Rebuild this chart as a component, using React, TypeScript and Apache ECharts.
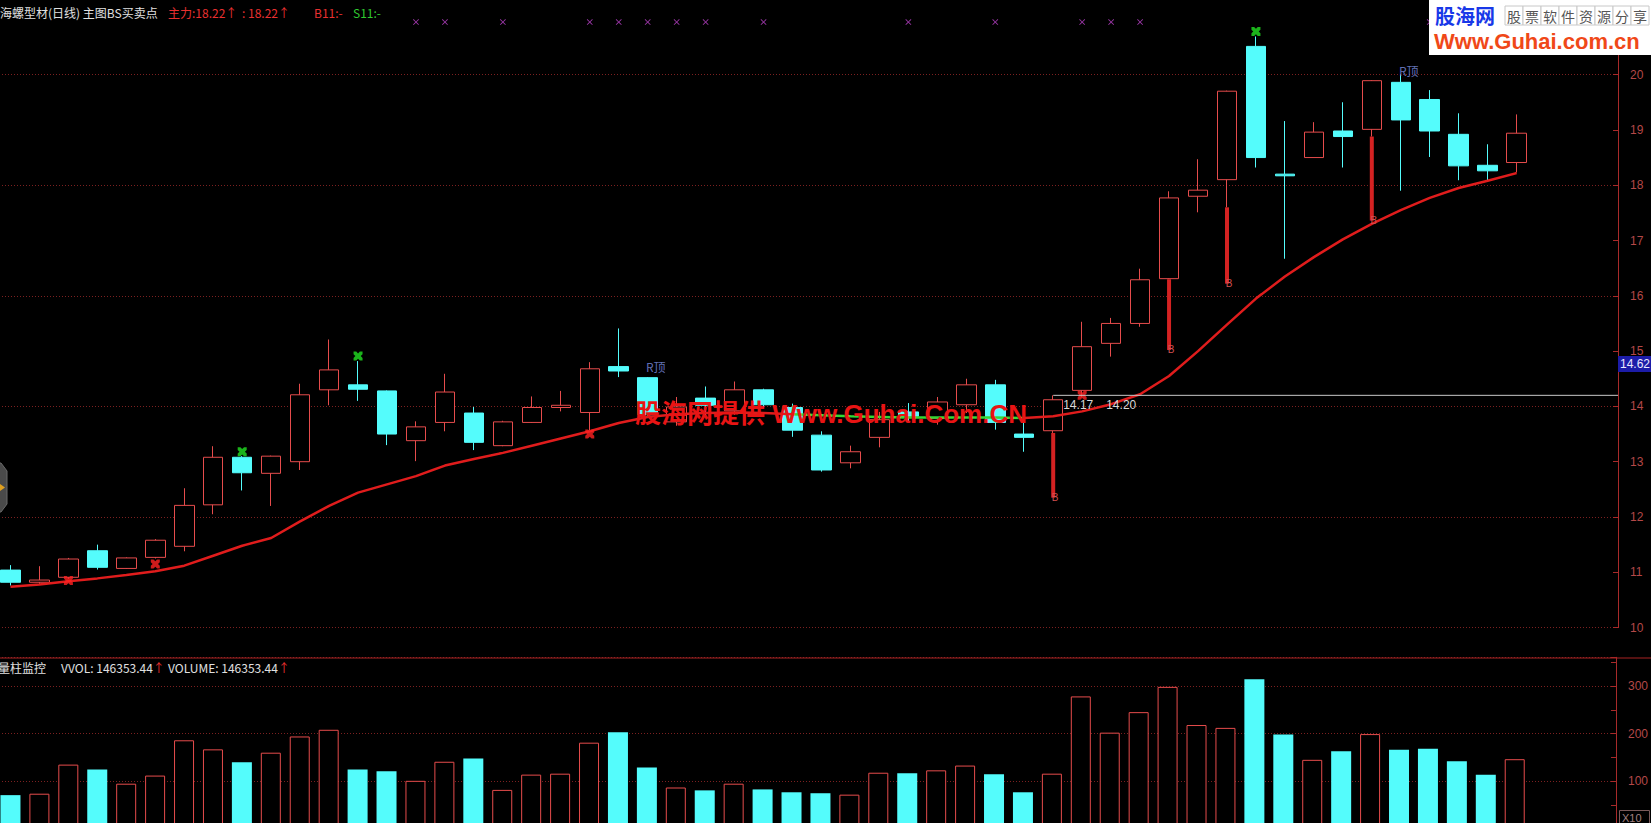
import React, { useEffect, useRef } from "react";
import * as echarts from "echarts";

// ---- data ----
const SLOT_COUNT = 56;
const days = Array.from({ length: SLOT_COUNT }, (_, i) => "D" + (i + 1));

const opens = [11.04, 10.82, 10.91, 11.39, 11.07, 11.27, 11.47, 12.22, 13.08, 12.79,
  13.00, 14.30, 14.39, 14.28, 13.38, 13.71, 13.88, 13.29, 13.71, 13.98,
  13.89, 14.72, 14.52, 13.72, 14.15, 13.92, 14.30, 13.98, 13.48, 12.98,
  13.44, 13.90, 13.78, 14.03, 14.39, 13.50, 13.56, 14.29, 15.14, 15.50,
  16.31, 17.80, 18.10, 20.51, 18.20, 18.50, 18.98, 19.01, 19.86, 19.55,
  18.92, 18.36, 18.41];
const closes = [10.82, 10.86, 11.24, 11.09, 11.26, 11.58, 12.21, 13.08, 12.80, 13.10,
  14.21, 14.66, 14.31, 13.50, 13.63, 14.26, 13.35, 13.72, 13.98, 14.02,
  14.68, 14.64, 13.85, 13.99, 14.02, 14.30, 14.03, 13.57, 12.85, 13.18,
  13.76, 13.82, 14.08, 14.39, 13.71, 13.44, 14.12, 15.08, 15.50, 16.29,
  17.77, 17.91, 19.70, 18.50, 18.17, 18.96, 18.88, 19.89, 19.18, 18.98,
  18.35, 18.26, 18.94];
const lows = [10.76, 10.79, 10.88, 11.05, 11.06, 11.25, 11.38, 12.05, 12.48, 12.20,
  12.85, 14.02, 14.10, 13.30, 13.01, 13.55, 13.21, 13.28, 13.70, 13.91,
  13.55, 14.53, 13.80, 13.65, 13.85, 13.85, 13.98, 13.45, 12.82, 12.88,
  13.26, 13.70, 13.67, 13.88, 13.58, 13.18, 13.52, 14.17, 14.90, 15.44,
  16.30, 17.51, 17.60, 18.32, 16.67, 18.50, 18.32, 18.88, 17.90, 18.51,
  18.09, 18.09, 18.23];
const highs = [11.13, 11.11, 11.26, 11.50, 11.27, 11.60, 12.52, 13.28, 13.10, 13.11,
  14.41, 15.21, 14.82, 14.29, 13.73, 14.59, 13.99, 13.74, 14.18, 14.28,
  14.80, 15.41, 14.53, 14.17, 14.36, 14.45, 14.32, 14.05, 13.55, 13.29,
  13.90, 14.06, 14.17, 14.50, 14.48, 13.70, 14.20, 15.53, 15.60, 16.49,
  17.89, 18.47, 19.71, 20.69, 19.16, 19.14, 19.50, 19.90, 20.00, 19.72,
  19.30, 18.74, 19.28];
// volume in axis units (x1000)
const volumes = [71, 74, 135, 125, 95, 112, 186, 167, 140, 160,
  194, 208, 125, 121, 101, 141, 148, 82, 114, 116,
  181, 203, 129, 87, 81, 95, 83, 77, 75, 72,
  118, 117, 123, 133, 115, 77, 116, 278, 202, 245,
  298, 218, 212, 314, 198, 145, 163, 199, 166, 168,
  142, 114, 146.35];
// 主力 line
const mainLine = [10.74, 10.78, 10.84, 10.89, 10.95, 11.02, 11.12, 11.30, 11.48, 11.62,
  11.92, 12.20, 12.44, 12.59, 12.74, 12.93, 13.05, 13.16, 13.29, 13.42,
  13.55, 13.70, 13.81, 13.86, 13.88, 13.89, 13.88, 13.86, 13.84, 13.82,
  13.81, 13.80, 13.80, 13.80, 13.80, 13.79, 13.82, 13.91, 14.04, 14.22,
  14.55, 15.00, 15.48, 15.95, 16.35, 16.70, 17.02, 17.30, 17.55, 17.77,
  17.95, 18.08, 18.22];
const mainLineFallFrom = 27;
const mainLineFallTo = 35;

const topMarkIdx = [14, 15, 17, 20, 21, 22, 23, 24, 26, 31, 34, 37, 38, 39, 49];
const topMarkLevel = 20.95;
const buyMarks = [[2, 10.85], [5, 11.15], [20, 13.5], [37, 14.2]];
const sellMarks = [[8, 13.18], [12, 14.91], [43, 20.78]];
const bSignals = [[36, 12.35], [40, 15.02], [42, 16.22], [47, 17.36]];
const rTops = [[22, 14.72], [48, 20.08]];
const refLineIdx = 36;
const refLineValue = 14.2;
const refLineTexts = ["14.17", "14.20"];
const cursorPrice = "14.62";

const priceMin = 10, priceMax = 22;
const volMin = 0, volMax = 360;

const UP = "#e64c4c";
const DOWN = "#54fcfc";
const AXIS = "#a82a2a";
const GRIDC = "#7c2020";
const LABEL = "#b44848";

const X_PATH = "path://M1,0 L5,4 L9,0 L10,1 L6,5 L10,9 L9,10 L5,6 L1,10 L0,9 L4,5 L0,1 Z";
const BOLD_X = "path://M0,0 L3,0 L5,2 L7,0 L10,0 L10,3 L8,5 L10,7 L10,10 L7,10 L5,8 L3,10 L0,10 L0,7 L2,5 L0,3 Z";

// the chart canvas is a little larger than the window so that the panels can bleed past its edges
const OX = 10;
const OY = 40;
const CW = 1651 + OX;
const CH = 870;

export default function App() {
  const ref = useRef<HTMLDivElement>(null);
  useEffect(() => {
    document.body.style.margin = "0";
    document.body.style.background = "#000";
    document.body.style.overflow = "hidden";
    const chart = echarts.init(ref.current!, null, { renderer: "svg" });
    const candleData = opens.map((o, i) => [o, closes[i], lows[i], highs[i]]);
    const volData = volumes.map((v, i) => {
      const up = closes[i] >= opens[i];
      return {
        value: v,
        itemStyle: up
          ? { color: "#000000", borderColor: UP, borderWidth: 1 }
          : { color: DOWN, borderWidth: 0 },
      };
    });
    const grids = [
      { left: 6, right: 33, top: 4, bottom: 202.4 },
      { left: 6, right: 33, top: 697.3, bottom: 1 },
    ];
    const option: any = {
      animation: false,
      backgroundColor: "#000000",
      textStyle: { fontFamily: "'Liberation Sans', Arial, 'Noto Sans CJK SC', sans-serif" },
      grid: grids,
      xAxis: [
        { type: "category", gridIndex: 0, data: days, show: false },
        { type: "category", gridIndex: 1, data: days, show: false },
      ],
      yAxis: [
        {
          type: "value", gridIndex: 0, position: "right", min: priceMin, max: priceMax, interval: 1,
          axisLine: { show: true, lineStyle: { color: AXIS } },
          axisTick: { show: true, inside: true, length: 5, lineStyle: { color: AXIS } },
          axisLabel: { color: LABEL, fontSize: 12, margin: 12, formatter: (v: number) => (v <= 20 ? String(v) : "") },
          splitLine: { show: false },
        },
        {
          type: "value", gridIndex: 0, position: "right", min: priceMin, max: priceMax, interval: 2,
          axisLine: { show: false }, axisTick: { show: false }, axisLabel: { show: false },
          splitLine: { show: true, lineStyle: { color: GRIDC, type: [1, 2], width: 1 } },
        },
        {
          type: "value", gridIndex: 1, position: "right", min: volMin, max: volMax, interval: 50,
          axisLine: { show: true, lineStyle: { color: AXIS } },
          axisTick: { show: true, inside: true, length: 5, lineStyle: { color: AXIS } },
          axisLabel: { color: LABEL, fontSize: 12, margin: 12, formatter: (v: number) => (v > 0 && v <= 300 && v % 100 === 0 ? String(v) : "") },
          splitLine: { show: false },
        },
        {
          type: "value", gridIndex: 1, position: "right", min: volMin, max: volMax, interval: 100,
          axisLine: { show: false }, axisTick: { show: false }, axisLabel: { show: false },
          splitLine: { show: true, lineStyle: { color: GRIDC, type: [1, 2], width: 1 } },
        },
      ],
      visualMap: [
        {
          type: "piecewise", show: false, seriesIndex: 1, dimension: 0,
          pieces: [{ gte: mainLineFallFrom, lte: mainLineFallTo, color: "#34d834" }],
          outOfRange: { color: "#e01c1c" },
        },
      ],
      series: [
        {
          type: "candlestick", xAxisIndex: 0, yAxisIndex: 0, data: candleData, barWidth: 20,
          itemStyle: { color: "#000000", color0: DOWN, borderColor: UP, borderColor0: DOWN, borderWidth: 1 },
          z: 3,
        },
        {
          type: "line", xAxisIndex: 0, yAxisIndex: 0, data: mainLine, symbol: "none",
          lineStyle: { width: 2.5 }, z: 4,
        },
        {
          type: "custom", xAxisIndex: 0, yAxisIndex: 0,
          data: bSignals.map(([i, v]) => [i, v, lows[i]]),
          renderItem: (params: any, api: any) => {
            const i = api.value(0);
            const p1 = api.coord([i, api.value(2)]);
            const p2 = api.coord([i, api.value(1)]);
            return {
              type: "group",
              children: [
                { type: "rect", shape: { x: p1[0] - 2, y: p1[1], width: 4, height: p2[1] - p1[1] }, style: { fill: "#d42222" } },
                { type: "text", style: { text: "B", x: p2[0] + 2, y: p2[1], fill: "#d45050", font: "10px 'Liberation Sans', sans-serif", align: "center", verticalAlign: "middle" } },
              ],
            };
          },
          z: 5,
        },
        {
          type: "scatter", xAxisIndex: 0, yAxisIndex: 0, symbol: BOLD_X, symbolSize: 9,
          itemStyle: { color: "#ff2222" }, data: buyMarks, z: 6,
        },
        {
          type: "scatter", xAxisIndex: 0, yAxisIndex: 0, symbol: BOLD_X, symbolSize: 9,
          itemStyle: { color: "#22e022" }, data: sellMarks, z: 6,
        },
        {
          type: "scatter", xAxisIndex: 0, yAxisIndex: 0, symbol: X_PATH, symbolSize: 6,
          itemStyle: { color: "#c044d0" }, data: topMarkIdx.map((i) => [i, topMarkLevel]), z: 6,
        },
        {
          type: "scatter", xAxisIndex: 0, yAxisIndex: 0, symbolSize: 0, data: rTops,
          label: { show: true, position: "inside", offset: [8, 0], formatter: "R顶", color: "#7c8ee0", fontSize: 12, fontFamily: "'Noto Sans CJK SC', sans-serif" },
          z: 6,
        },
        {
          type: "bar", xAxisIndex: 1, yAxisIndex: 2, data: volData, barWidth: 20,
        },
      ],
    };
    chart.setOption(option);

    const p = chart.convertToPixel({ seriesIndex: 0 }, [refLineIdx, refLineValue]) as number[];
    const gridRight = CW - 33;
    const cjk = "'Noto Sans CJK SC', sans-serif";
    const lat = "'Liberation Sans', Arial, sans-serif";
    const txt = (text: string, x: number, y: number, fill: string, font = `12px ${cjk}`, extra: any = {}) => ({
      type: "text", x, y, z: 20, style: { text, fill, font, verticalAlign: "middle", ...extra },
    });
    const richLine = (x: number, y: number, text: string) => ({
      type: "text", x, y, z: 20,
      style: {
        text, verticalAlign: "middle", font: `12px ${cjk}`,
        rich: {
          w: { fill: "#e0e0e0", font: `12px ${cjk}` },
          r: { fill: "#e83030", font: `12px ${cjk}` },
          g: { fill: "#30c830", font: `12px ${cjk}` },
        },
      },
    });
    const logoChars = "股票软件资源分享".split("");
    const pageItems: any[] = [
      // panel separator
      { type: "line", z: 9, shape: { x1: -OX, y1: 658, x2: 1651, y2: 658 }, style: { stroke: "#a82222", lineWidth: 1 } },
      // headers
      txt("海螺型材(日线) 主图BS买卖点", 0, 12, "#e0e0e0"),
      txt("主力:18.22↑", 168, 12, "#e83030"),
      txt(": 18.22↑", 242, 12, "#e83030"),
      txt("B11:-", 314, 12, "#e83030"),
      txt("S11:-", 353, 12, "#30c830"),
      txt("量柱监控", -2, 667, "#e0e0e0"),
      richLine(61, 667, "{w|VVOL: 146353.44}{r|↑}"),
      richLine(168, 667, "{w|VOLUME: 146353.44}{r|↑}"),
      // cursor price box
      { type: "rect", z: 20, shape: { x: 1618, y: 356, width: 33, height: 16 }, style: { fill: "#1c1ca8" } },
      txt(cursorPrice, 1620, 364, "#e8e8ff", `12px ${lat}`),
      // x10 box
      { type: "rect", z: 20, shape: { x: 1619.5, y: 810.5, width: 30, height: 14 }, style: { fill: "#000", stroke: "#7a5a5a", lineWidth: 1 } },
      txt("X10", 1622, 818, "#a08080", `11px ${lat}`),
      // left octagon
      { type: "polygon", z: 20, shape: { points: [[-10, 463], [1, 463], [7, 471], [7, 504], [1, 512], [-10, 512]] }, style: { fill: "#4a4a4a", stroke: "#6a6a6a" } },
      { type: "polygon", z: 21, shape: { points: [[0, 484], [5, 487.5], [0, 491]] }, style: { fill: "#e0a020" } },
      // watermark
      txt("股海网提供 Www.Guhai.Com.CN", 831, 414, "#e81414", `bold 26px 'Liberation Sans', 'Noto Sans CJK SC', sans-serif`, { align: "center" }),
      // logo
      { type: "rect", z: 30, shape: { x: 1429, y: 0, width: 222, height: 55 }, style: { fill: "#ffffff" } },
      { type: "text", z: 31, x: 1435, y: 15, style: { text: "股海网", fill: "#1838e8", font: `bold 20px ${cjk}`, verticalAlign: "middle" } },
      ...logoChars.map((c, k) => ({ type: "rect", z: 31, shape: { x: 1505 + k * 18, y: 6, width: 18, height: 19 }, style: { fill: "#fff", stroke: "#c8c8c8", lineWidth: 1 } })),
      ...logoChars.map((c, k) => ({ type: "text", z: 32, x: 1514 + k * 18, y: 15.5, style: { text: c, fill: "#555555", font: `14px ${cjk}`, align: "center", verticalAlign: "middle" } })),
      { type: "text", z: 31, x: 1434, y: 41, style: { text: "Www.Guhai.com.cn", fill: "#f04818", font: `bold 22px ${lat}`, verticalAlign: "middle" } },
    ];
    const graphics: any[] = [
      // reference price line (chart coordinates)
      { type: "line", z: 8, shape: { x1: p[0], y1: p[1], x2: gridRight, y2: p[1] }, style: { stroke: "#c8c8c8", lineWidth: 1 } },
      { type: "text", z: 20, x: p[0] + 10, y: p[1] + 10, style: { text: refLineTexts[0], fill: "#d8d8d8", font: `12px ${lat}`, verticalAlign: "middle" } },
      { type: "text", z: 20, x: p[0] + 53, y: p[1] + 10, style: { text: refLineTexts[1], fill: "#d8d8d8", font: `12px ${lat}`, verticalAlign: "middle" } },
      { type: "group", x: OX, y: OY, children: pageItems },
    ];
    chart.setOption({ graphic: graphics });
    return () => chart.dispose();
  }, []);
  return <div ref={ref} style={{ position: "fixed", left: -OX, top: -OY, width: CW, height: CH, background: "#000" }} />;
}
